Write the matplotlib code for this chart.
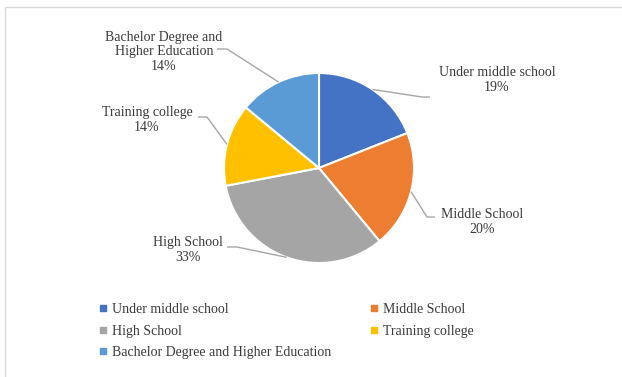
import matplotlib
matplotlib.use("Agg")
import numpy as np
import matplotlib.pyplot as plt
from matplotlib.lines import Line2D
from matplotlib.patches import Rectangle

# Education level shares (percent)
categories = ["Under middle school", "Middle School", "High School",
              "Training college", "Bachelor Degree and Higher Education"]
shares = [19, 20, 33, 14, 14]
slice_labels = ["Under middle school", "Middle School", "High School",
                "Training college", "Bachelor Degree and\nHigher Education"]
colors = ["#4472C4", "#ED7D31", "#A5A5A5", "#FFC000", "#5B9BD5"]

W, H = 622, 377
plt.rcParams["font.family"] = ["Liberation Serif", "DejaVu Serif"]
text_color = "#3A3A3A"
line_color = "#A6A6A6"

fig = plt.figure(figsize=(W / 100, H / 100), dpi=100)
ax = fig.add_axes([0, 0, 1, 1])


def py(y):
    # pixel row counted from the top -> data y
    return H - y


cx, cy, r = 319, py(168), 95
wedges, _ = ax.pie(shares, colors=colors, startangle=90, counterclock=False,
                   center=(cx, cy), radius=r,
                   wedgeprops=dict(edgecolor="white", linewidth=1.5))
ax.set_xlim(0, W)
ax.set_ylim(0, H)
ax.set_aspect("equal")
ax.set_axis_off()

# label text centres and leader elbows (pixel coords from top-left)
label_pos = [(497, 80), (482, 222), (188, 250), (147, 120), (164, 52)]
elbows = [((422, 97), (430, 97)), ((427, 217), (435, 217)),
          ((237, 247), (227, 247)), ((207, 117), (198, 117)),
          ((227, 49), (217, 49))]

for w, lab, val, (tx, ty), (e1, e2) in zip(wedges, slice_labels, shares,
                                           label_pos, elbows):
    ang = np.deg2rad((w.theta1 + w.theta2) / 2)
    x0 = cx + r * np.cos(ang)
    y0 = cy + r * np.sin(ang)
    ax.plot([x0, e1[0], e2[0]], [y0, py(e1[1]), py(e2[1])],
            color=line_color, lw=1, solid_capstyle="butt")
    ax.text(tx, py(ty), f"{lab}\n{val}%", ha="center", va="center",
            multialignment="center", fontsize=10, color=text_color,
            linespacing=1.2)

# chart area border
fig.patches.append(Rectangle((5 / W, -0.1), 1.1, 1.1 - 7 / H,
                             transform=fig.transFigure, fill=False,
                             edgecolor="#D9D9D9", lw=1))

# legend laid out row by row
handles = [Line2D([], [], marker="s", ls="none", markersize=4.5,
                  markerfacecolor=c, markeredgecolor=c) for c in colors]
order = [0, 2, 4, 1, 3]
fig.legend([handles[i] for i in order], [categories[i] for i in order],
           ncol=2, loc="upper left", bbox_to_anchor=(99 / W, 1 - 303 / H),
           frameon=False, fontsize=10, handlelength=0.6, handletextpad=0.35,
           borderpad=0, borderaxespad=0, labelspacing=0.62,
           columnspacing=2.75, labelcolor=text_color)

fig.savefig("out.png", dpi=100)
